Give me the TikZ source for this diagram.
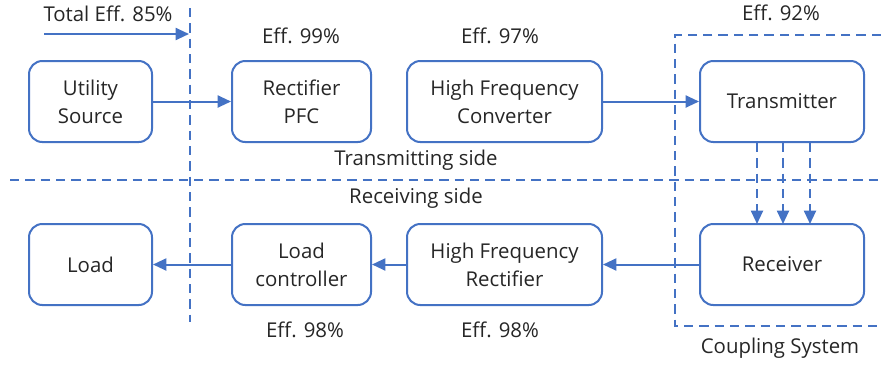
\documentclass[tikz,border=0pt]{standalone}
\usepackage{fontspec}
\setmainfont{Open Sans}
\usetikzlibrary{arrows.meta}
\definecolor{bl}{HTML}{4472C4}
\definecolor{tx}{HTML}{262626}
\begin{document}
\begin{tikzpicture}[x=0.75pt,y=-0.75pt,
  blk/.style={draw=bl,line width=1.5pt,rounded corners=10pt,align=center,text=tx,inner sep=0pt,font=\fontsize{15.3}{21}\selectfont},
  lbl/.style={text=tx,inner sep=0pt,font=\fontsize{15.3}{21}\selectfont},
  arr/.style={draw=bl,line width=1.5pt,-{Triangle[length=10pt,width=9pt]}},
  dsh/.style={draw=bl,line width=1.5pt,dash pattern=on 7pt off 4.5pt}]
\useasboundingbox (0,0) rectangle (881,365);
\node[blk,minimum width=123*0.75pt,minimum height=81*0.75pt] (us) at (90.5,101.5) {Utility\\Source};
\node[blk,minimum width=139*0.75pt,minimum height=81*0.75pt] (rp) at (301.5,101.5) {Rectifier\\PFC};
\node[blk,minimum width=195*0.75pt,minimum height=81*0.75pt] (hc) at (504.5,101.5) {High Frequency\\Converter};
\node[blk,minimum width=164*0.75pt,minimum height=81*0.75pt] (tr) at (782,101.5) {Transmitter};
\node[blk,minimum width=123*0.75pt,minimum height=81*0.75pt] (ld) at (90.5,264.5) {Load};
\node[blk,minimum width=139*0.75pt,minimum height=81*0.75pt] (lc) at (301.5,264.5) {Load\\controller};
\node[blk,minimum width=195*0.75pt,minimum height=81*0.75pt] (hr) at (504.5,264.5) {High Frequency\\Rectifier};
\node[blk,minimum width=164*0.75pt,minimum height=81*0.75pt] (rc) at (782,264.5) {Receiver};
% dashed lines
\coordinate (vt) at (190,8);
\coordinate (vb) at (190,322);
\draw[dsh] (vt) -- (vb);
\coordinate (hl) at (10,180);
\coordinate (hr2) at (881,180);
\draw[dsh] (hl) -- (hr2);
\coordinate (c1) at (881,35);
\coordinate (c2) at (675,35);
\coordinate (c3) at (675,326);
\coordinate (c4) at (881,326);
\draw[dsh] (c1) -- (c2) -- (c3) -- (c4);
% arrows
\draw[arr] (us) -- (rp);
\draw[arr] (hc) -- (tr);
\draw[arr] (rc) -- (hr);
\draw[arr] (hr) -- (lc);
\draw[arr] (lc) -- (ld);
\foreach \x/\n in {757/a,783/b,810/c}{
  \coordinate (t\n) at (\x,143);
  \coordinate (r\n) at (\x,224);
  \draw[dsh,-{Triangle[length=10pt,width=9pt]}] (t\n) -- (r\n);
}
\coordinate (ta) at (44,34);
\coordinate (tb) at (189,34);
\draw[arr] (ta) -- (tb);
% labels
\node[lbl] (l1) at (108,14) {Total Eff. 85\%};
\node[lbl] (l2) at (301,36) {Eff. 99\%};
\node[lbl] (l3) at (500,36) {Eff. 97\%};
\node[lbl] (l4) at (781,13) {Eff. 92\%};
\node[lbl] (l5) at (416,160) {Transmitting side};
\node[lbl] (l6) at (416,198) {Receiving side};
\node[lbl] (l7) at (305,330) {Eff. 98\%};
\node[lbl] (l8) at (500,330) {Eff. 98\%};
\node[lbl] (l9) at (780,348) {Coupling System};
\end{tikzpicture}
\end{document}
